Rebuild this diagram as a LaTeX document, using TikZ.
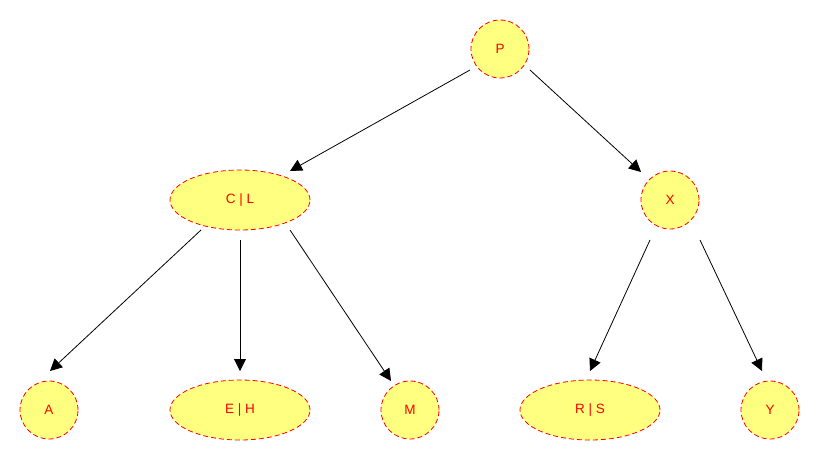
\documentclass[tikz,border=0pt]{standalone}
\usepackage{fontspec}
\setmainfont{Liberation Sans}
\usetikzlibrary{shapes.geometric,arrows.meta,calc}
\definecolor{nodefill}{RGB}{255,255,128}
\definecolor{nodered}{RGB}{255,0,0}
\tikzset{
  treenode/.style={draw=nodered, fill=nodefill, dash pattern=on 5pt off 3pt, line width=0.8pt,
    text=nodered, font=\fontsize{13.5}{15}\selectfont, inner sep=0pt},
  circ/.style={treenode, circle, minimum size=58pt},
  ell/.style={treenode, ellipse, minimum width=140pt, minimum height=60pt},
  edge/.style={draw=black, line width=0.8pt, -{Triangle[length=12pt,width=12pt]}}
}
\begin{document}
\begin{tikzpicture}[x=1pt,y=-1pt]
\useasboundingbox[fill=white] (0,0) rectangle (820,460);
\node[circ] (P) at (500,49) {P};
\node[ell] (CL) at (240,200) {C | L};
\node[circ] (X) at (670,200) {X};
\node[circ] (A) at (49,410) {A};
\node[ell] (EH) at (240,410) {E | H};
\node[circ] (M) at (410,410) {M};
\node[ell] (RS) at (590,410) {R | S};
\node[circ] (Y) at (770,410) {Y};
\draw[edge] ($(P)+(-30,21)$) -- ($(CL)+(50,-29)$);
\draw[edge] ($(P)+(30,21)$) -- ($(X)+(-29,-28)$);
\draw[edge] ($(CL)+(-39,30)$) -- ($(A)+(1,-39)$);
\draw[edge] ($(CL)+(0,40)$) -- ($(EH)+(0,-39)$);
\draw[edge] ($(CL)+(50,30)$) -- ($(M)+(-19,-29)$);
\draw[edge] ($(X)+(-20,40)$) -- ($(RS)+(0,-39)$);
\draw[edge] ($(X)+(30,40)$) -- ($(Y)+(-8,-39)$);
\end{tikzpicture}
\end{document}
